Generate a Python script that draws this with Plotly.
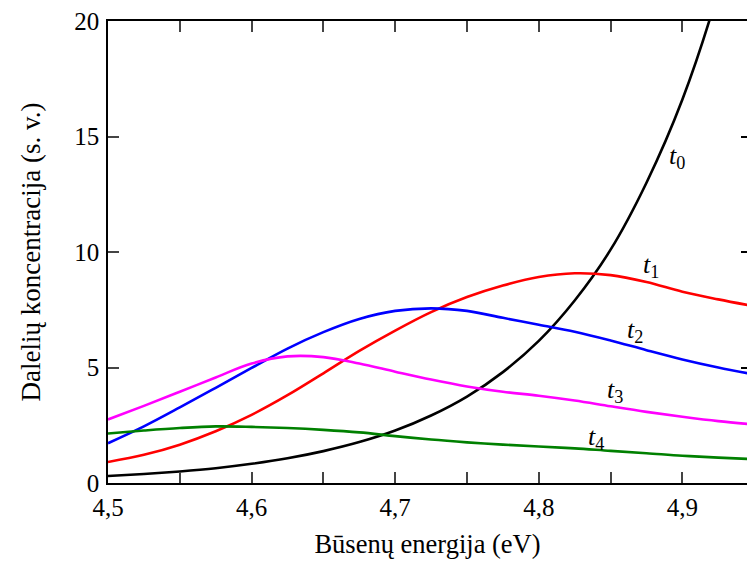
import plotly.graph_objects as go

# Energy grid (eV)
energy = [4.5, 4.525, 4.55, 4.575, 4.6, 4.625, 4.65, 4.675, 4.7, 4.725,
          4.75, 4.775, 4.8, 4.825, 4.85, 4.875, 4.9, 4.925, 4.95]

# Particle concentration at successive times (arb. units)
t0 = [0.30, 0.39, 0.50, 0.64, 0.83, 1.07, 1.38, 1.77, 2.27, 2.92,
      3.74, 4.80, 6.15, 7.90, 10.1, 13.0, 16.6, 21.3, 27.4]
t1 = [0.91, 1.22, 1.66, 2.24, 2.95, 3.80, 4.75, 5.72, 6.60, 7.40,
      8.05, 8.55, 8.92, 9.08, 9.00, 8.70, 8.28, 7.95, 7.65]
t2 = [1.72, 2.45, 3.27, 4.12, 4.98, 5.82, 6.53, 7.10, 7.45, 7.56,
      7.45, 7.15, 6.85, 6.55, 6.17, 5.75, 5.35, 5.00, 4.70]
t3 = [2.75, 3.34, 3.95, 4.57, 5.17, 5.48, 5.45, 5.17, 4.82, 4.48,
      4.18, 3.95, 3.78, 3.57, 3.32, 3.08, 2.87, 2.68, 2.53]
t4 = [2.14, 2.27, 2.38, 2.45, 2.43, 2.38, 2.30, 2.19, 2.03, 1.88,
      1.76, 1.66, 1.58, 1.50, 1.39, 1.29, 1.18, 1.10, 1.03]

series = [("t0", t0, "#000000"), ("t1", t1, "#FF0000"), ("t2", t2, "#0000FF"),
          ("t3", t3, "#FF00FF"), ("t4", t4, "#008000")]

# Curve labels: (index, x, y)
labels = [(0, 4.896, 14.1), (1, 4.878, 9.4), (2, 4.867, 6.6),
          (3, 4.853, 4.0), (4, 4.840, 1.95)]

FONT = "Liberation Serif, Times New Roman, serif"
TICKFONT = dict(family=FONT, size=25, color="black")

fig = go.Figure()
for name, vals, col in series:
    fig.add_trace(go.Scatter(x=energy, y=vals, mode="lines", name=name,
                             line=dict(color=col, width=2.6, shape="spline", smoothing=1.0),
                             showlegend=False))

# invisible trace carrying the right-hand tick axis
fig.add_trace(go.Scatter(x=[energy[0]], y=[0], yaxis="y2", mode="markers",
                         marker=dict(opacity=0), showlegend=False, hoverinfo="skip"))

for i, x, y in labels:
    fig.add_annotation(x=x, y=y, text=f"<i>t</i><sub>{i}</sub>", showarrow=False,
                       font=dict(family=FONT, size=26, color="black"))

fig.update_layout(
    width=747, height=565,
    margin=dict(l=108, r=0, t=21, b=82),
    paper_bgcolor="white", plot_bgcolor="white",
    separators=",.",
    font=dict(family=FONT, size=24, color="black"),
    xaxis=dict(range=[4.5, 4.945], tickvals=[4.5, 4.6, 4.7, 4.8, 4.9],
               tickformat=".1f", ticks="inside", ticklen=11, tickwidth=1.5,
               tickfont=TICKFONT,
               minor=dict(dtick=0.05, tick0=4.5, ticks="inside", ticklen=6, tickwidth=1.5),
               showline=True, linewidth=1.5, linecolor="black", mirror="allticks",
               showgrid=False, zeroline=False, ticklabelstandoff=1,
               title=dict(text="Būsenų energija (eV)", font=dict(family=FONT, size=26.5),
                          standoff=15)),
    yaxis=dict(range=[0, 20], tickvals=[0, 5, 10, 15, 20],
               ticks="inside", ticklen=11, tickwidth=1.5, tickfont=TICKFONT,
               showline=True, linewidth=1.5, linecolor="black",
               showgrid=False, zeroline=False, ticklabelstandoff=2,
               title=dict(text="Dalelių koncentracija (s. v.)",
                          font=dict(family=FONT, size=27), standoff=26)),
    yaxis2=dict(range=[0, 20], tickvals=[0, 5, 10, 15, 20], overlaying="y", side="right",
                ticks="inside", ticklen=6, tickwidth=1.5, tickcolor="black",
                showticklabels=False, showline=False, showgrid=False, zeroline=False),
)

fig.write_html("out.html")
